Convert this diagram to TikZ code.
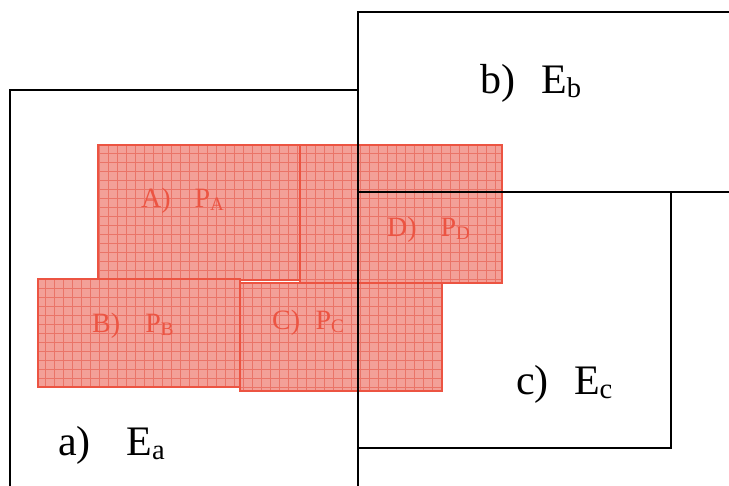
\documentclass[tikz,border=0pt]{standalone}
\usepackage{fontspec}
\setmainfont{Liberation Serif}

\definecolor{planred}{RGB}{236,84,66}
\definecolor{planfill}{RGB}{243,160,152}
\definecolor{plangrid}{RGB}{234,116,104}

\newcommand{\lowidx}[1]{\raisebox{-0.08em}{\scalebox{0.68}{#1}}}

\tikzset{
  region/.style={draw=black, line width=1.2pt},
  patch/.style={draw=planred, line width=1.6pt},
  patchgrid/.style={draw=plangrid, line width=0.5pt, step=9pt},
  regionlabel/.style={anchor=base west, inner sep=0pt, font=\fontsize{42}{48}\selectfont},
  patchlabel/.style={anchor=base west, inner sep=0pt, text=planred, font=\fontsize{28}{32}\selectfont}
}

\begin{document}
\begin{tikzpicture}[x=1pt, y=-1pt]
 \useasboundingbox (0,0) rectangle (729,486);

 % patches A, D, B, C
 \foreach \xa/\ya/\xb/\yb in {98/145/300/280, 300/145/502/283, 38/279/240/387, 240/283/442/391} {
  \fill[planfill] (\xa,\ya) rectangle (\xb,\yb);
  \draw[patchgrid] (\xa,\ya) grid (\xb,\yb);
  \draw[patch] (\xa,\ya) rectangle (\xb,\yb);
 }

 % regions
 \draw[region] (10,486) |- (358,90) -- (358,486);
 \draw[region] (729,12) -| (358,192) -- (729,192);
 \draw[region] (358,192) rectangle (671,448);

 \node (ea) [regionlabel] at (58,456) {a)\hspace{0.85em}E\lowidx{a}};
 \node (eb) [regionlabel] at (480,94) {b)\hspace{0.62em}E\lowidx{b}};
 \node (ec) [regionlabel] at (516,395) {c)\hspace{0.6em}E\lowidx{c}};

 \node (pa) [patchlabel] at (141,208) {A)\hspace{0.85em}P\lowidx{A}};
 \node (pb) [patchlabel] at (92,333) {B)\hspace{0.9em}P\lowidx{B}};
 \node (pc) [patchlabel] at (272,330) {C)\hspace{0.55em}P\lowidx{C}};
 \node (pd) [patchlabel] at (387,237) {D)\hspace{0.85em}P\lowidx{D}};
\end{tikzpicture}
\end{document}
